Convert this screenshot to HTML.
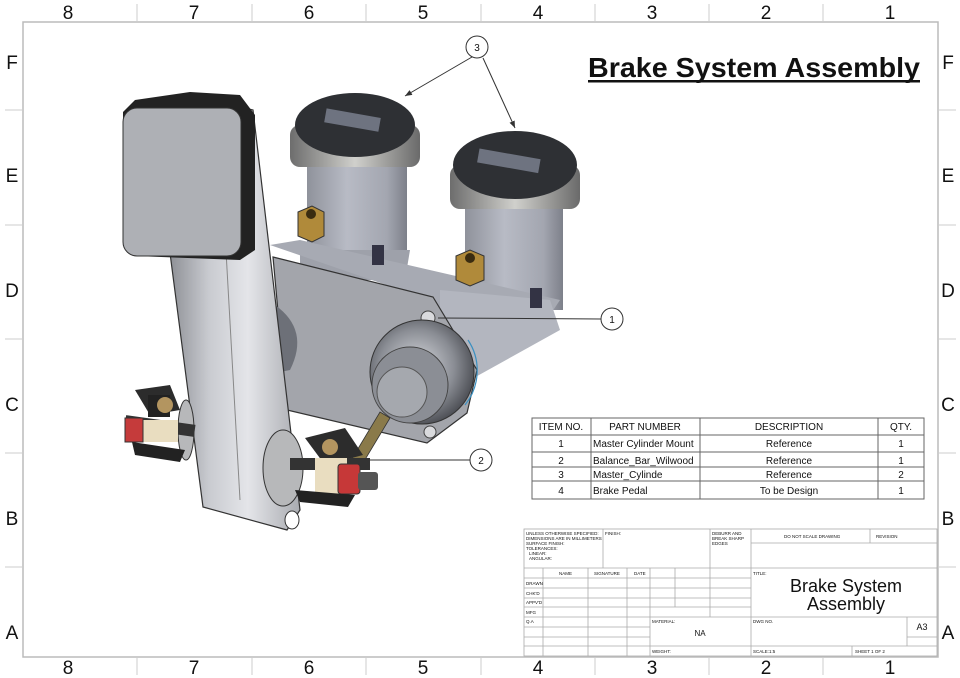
<!DOCTYPE html>
<html><head><meta charset="utf-8"><style>
html,body{margin:0;padding:0;background:#fff}
svg{display:block}
text{font-family:"Liberation Sans",sans-serif;fill:#111}
</style></head><body>
<svg width="960" height="678" viewBox="0 0 960 678" xmlns="http://www.w3.org/2000/svg">
<defs>
<linearGradient id="arm" x1="0" x2="1"><stop offset="0" stop-color="#8e9096"/><stop offset=".3" stop-color="#c9cbd0"/><stop offset=".6" stop-color="#e4e5e9"/><stop offset="1" stop-color="#a9abb0"/></linearGradient>
<linearGradient id="cyl" x1="0" x2="1"><stop offset="0" stop-color="#8f929b"/><stop offset=".4" stop-color="#b8bbc5"/><stop offset=".8" stop-color="#a3a6b0"/><stop offset="1" stop-color="#7d808a"/></linearGradient>
<linearGradient id="ring" x1="0" x2="1"><stop offset="0" stop-color="#6d6d6d"/><stop offset=".5" stop-color="#d0d0cc"/><stop offset="1" stop-color="#6a6a6a"/></linearGradient>
<radialGradient id="mc" cx=".45" cy=".45" r=".6"><stop offset="0" stop-color="#d9dbe0"/><stop offset=".6" stop-color="#8a8d94"/><stop offset="1" stop-color="#44464c"/></radialGradient>
<marker id="ah" viewBox="0 0 10 10" refX="10" refY="5" markerWidth="7" markerHeight="7" orient="auto"><path d="M0 1 L10 5 L0 9Z" fill="#333"/></marker>
</defs>
<rect x="23" y="22" width="915" height="635" fill="none" stroke="#bbb" stroke-width="1.5"/>
<g stroke="#ccc" stroke-width="1">
<line x1="137" y1="4" x2="137" y2="22"/><line x1="252" y1="4" x2="252" y2="22"/><line x1="366" y1="4" x2="366" y2="22"/><line x1="481" y1="4" x2="481" y2="22"/><line x1="595" y1="4" x2="595" y2="22"/><line x1="709" y1="4" x2="709" y2="22"/><line x1="823" y1="4" x2="823" y2="22"/>
<line x1="137" y1="657" x2="137" y2="675"/><line x1="252" y1="657" x2="252" y2="675"/><line x1="366" y1="657" x2="366" y2="675"/><line x1="481" y1="657" x2="481" y2="675"/><line x1="595" y1="657" x2="595" y2="675"/><line x1="709" y1="657" x2="709" y2="675"/><line x1="823" y1="657" x2="823" y2="675"/>
<line x1="5" y1="110" x2="23" y2="110"/><line x1="5" y1="225" x2="23" y2="225"/><line x1="5" y1="339" x2="23" y2="339"/><line x1="5" y1="453" x2="23" y2="453"/><line x1="5" y1="567" x2="23" y2="567"/>
<line x1="938" y1="110" x2="956" y2="110"/><line x1="938" y1="225" x2="956" y2="225"/><line x1="938" y1="339" x2="956" y2="339"/><line x1="938" y1="453" x2="956" y2="453"/><line x1="938" y1="567" x2="956" y2="567"/>
</g>
<g font-size="19" text-anchor="middle">
<text x="68" y="19">8</text><text x="194" y="19">7</text><text x="309" y="19">6</text><text x="423" y="19">5</text><text x="538" y="19">4</text><text x="652" y="19">3</text><text x="766" y="19">2</text><text x="890" y="19">1</text>
<text x="68" y="674">8</text><text x="194" y="674">7</text><text x="309" y="674">6</text><text x="423" y="674">5</text><text x="538" y="674">4</text><text x="652" y="674">3</text><text x="766" y="674">2</text><text x="890" y="674">1</text>
<text x="12" y="69">F</text><text x="12" y="182">E</text><text x="12" y="297">D</text><text x="12" y="411">C</text><text x="12" y="525">B</text><text x="12" y="639">A</text>
<text x="948" y="69">F</text><text x="948" y="182">E</text><text x="948" y="297">D</text><text x="948" y="411">C</text><text x="948" y="525">B</text><text x="948" y="639">A</text>
</g>
<text x="588" y="77" font-size="28" font-weight="bold" textLength="332" lengthAdjust="spacingAndGlyphs">Brake System Assembly</text>
<rect x="588" y="80" width="332" height="2.5" fill="#111"/>

<rect x="307" y="160" width="100" height="108" fill="url(#cyl)"/>
<path d="M300 250 L410 250 L405 280 L300 280Z" fill="#9ea1aa"/>
<rect x="290" y="125" width="130" height="42" rx="10" fill="url(#ring)"/>
<ellipse cx="355" cy="125" rx="60" ry="32" fill="#2e3034"/>
<rect x="325" y="113" width="55" height="14" fill="#6e7380" transform="rotate(10 352 120)"/>
<rect x="465" y="205" width="98" height="105" fill="url(#cyl)"/>
<rect x="450" y="165" width="130" height="44" rx="10" fill="url(#ring)"/>
<ellipse cx="515" cy="165" rx="62" ry="34" fill="#2e3034"/>
<rect x="478" y="154" width="62" height="14" fill="#6e7380" transform="rotate(10 510 160)"/>
<path d="M270 245 L300 240 L560 300 L540 330 L460 350 L430 300 Z" fill="#a7aab3"/>
<path d="M440 290 L550 300 L560 330 L470 380 L440 340Z" fill="#b3b6bf"/>
<path d="M298 212 L312 206 L324 212 L324 236 L312 242 L298 236Z" fill="#b08a3a" stroke="#333" stroke-width="1"/>
<circle cx="311" cy="214" r="5" fill="#3a2c10"/>
<path d="M456 256 L470 250 L484 256 L484 280 L470 286 L456 280Z" fill="#b08a3a" stroke="#333" stroke-width="1"/>
<circle cx="470" cy="258" r="5" fill="#3a2c10"/>
<rect x="372" y="245" width="12" height="20" fill="#334"/><rect x="530" y="288" width="12" height="20" fill="#334"/>
<path d="M273 257 L433 297 L477 370 L467 413 L427 443 L287 410 Z" fill="#a3a5ab" stroke="#333" stroke-width="1.2"/>
<path d="M275 305 Q310 330 290 370 L280 372Z" fill="#6d7078"/>
<circle cx="428" cy="318" r="7" fill="#d9dadd" stroke="#444"/>
<circle cx="430" cy="432" r="6" fill="#d9dadd" stroke="#444"/>
<circle cx="422" cy="372" r="52" fill="url(#mc)" stroke="#333"/>
<circle cx="410" cy="385" r="38" fill="#8b8e95" stroke="#444"/>
<circle cx="402" cy="392" r="25" fill="#a5a8ae" stroke="#555"/>
<path d="M468 340 A55 55 0 0 1 465 405" fill="none" stroke="#3a8fc0" stroke-width="1.2"/>
<path d="M380 412 L390 418 L360 468 L350 462Z" fill="#8a7a4a" stroke="#333" stroke-width=".8"/>
<path d="M190 95 L253 110 L300 510 L287 530 L203 507 L170 253 Z" fill="url(#arm)" stroke="#333" stroke-width="1.2"/>
<path d="M222 180 L240 500" stroke="#888" stroke-width="1" fill="none"/>
<ellipse cx="292" cy="520" rx="7" ry="9" fill="#fff" stroke="#333"/>
<path d="M190 92 L240 95 L255 115 L255 250 L240 260 L135 256 L123 244 L123 112 L135 100 Z" fill="#222"/>
<rect x="123" y="108" width="118" height="148" rx="14" fill="#aeb0b5" stroke="#333"/>
<ellipse cx="283" cy="468" rx="20" ry="38" fill="#b7b8ba" stroke="#333"/>
<ellipse cx="186" cy="430" rx="8" ry="30" fill="#b7b8ba" stroke="#333"/>
<rect x="125" y="420" width="70" height="12" fill="#333" transform="rotate(8 160 426)"/>
<path d="M135 390 L170 385 L180 410 L150 415Z" fill="#2c2c2c"/>
<rect x="148" y="395" width="22" height="22" fill="#222"/>
<circle cx="165" cy="405" r="8" fill="#b39560"/>
<rect x="138" y="420" width="40" height="22" fill="#e9ddc0"/>
<rect x="125" y="418" width="18" height="24" fill="#c53b3b" stroke="#333"/>
<path d="M132 442 L185 450 L180 462 L135 455Z" fill="#222"/>
<path d="M305 438 L345 428 L363 455 L325 465Z" fill="#2c2c2c"/>
<circle cx="330" cy="447" r="8" fill="#b39560"/>
<rect x="290" y="458" width="80" height="12" fill="#333"/>
<rect x="315" y="458" width="32" height="36" fill="#e9ddc0"/>
<rect x="338" y="464" width="22" height="30" rx="3" fill="#c63838" stroke="#333"/>
<rect x="358" y="472" width="20" height="18" rx="3" fill="#555"/>
<path d="M295 490 L355 495 L348 507 L300 502Z" fill="#222"/>

<g stroke="#333" stroke-width="1" fill="none">
<line x1="472" y1="57" x2="405" y2="96" marker-end="url(#ah)"/><line x1="483" y1="58" x2="515" y2="128" marker-end="url(#ah)"/>
<line x1="601" y1="319" x2="438" y2="318"/>
<line x1="470" y1="460" x2="370" y2="460"/>
<circle cx="477" cy="47" r="11" fill="#fff"/>
<circle cx="612" cy="319" r="11" fill="#fff"/>
<circle cx="481" cy="460" r="11" fill="#fff"/>
</g>
<g font-size="10" text-anchor="middle"><text x="477" y="51">3</text><text x="612" y="323">1</text><text x="481" y="464">2</text></g>

<g stroke="#666" stroke-width="1" fill="none">
<rect x="532" y="418" width="392" height="81"/>
<line x1="532" y1="435" x2="924" y2="435"/><line x1="532" y1="452" x2="924" y2="452"/><line x1="532" y1="467" x2="924" y2="467"/><line x1="532" y1="481" x2="924" y2="481"/>
<line x1="591" y1="418" x2="591" y2="499"/><line x1="700" y1="418" x2="700" y2="499"/><line x1="878" y1="418" x2="878" y2="499"/>
</g>
<g font-size="10">
<g text-anchor="middle">
<text x="561" y="430">ITEM NO.</text><text x="645" y="430">PART NUMBER</text><text x="789" y="430">DESCRIPTION</text><text x="901" y="430">QTY.</text>
<text x="561" y="447">1</text><text x="561" y="464">2</text><text x="561" y="478">3</text><text x="561" y="494">4</text>
<text x="789" y="447">Reference</text><text x="789" y="464">Reference</text><text x="789" y="478">Reference</text><text x="789" y="494">To be Design</text>
<text x="901" y="447">1</text><text x="901" y="464">1</text><text x="901" y="478">2</text><text x="901" y="494">1</text>
</g>
<text x="593" y="447">Master Cylinder Mount</text><text x="593" y="464">Balance_Bar_Wilwood</text><text x="593" y="478">Master_Cylinde</text><text x="593" y="494">Brake Pedal</text>
</g>

<g stroke="#aaa" stroke-width=".8" fill="none">
<rect x="524" y="529" width="413" height="127"/>
<line x1="524" y1="568" x2="937" y2="568"/>
<line x1="603" y1="529" x2="603" y2="568"/>
<line x1="710" y1="529" x2="710" y2="617"/>
<line x1="751" y1="529" x2="751" y2="656"/>
<line x1="751" y1="543" x2="937" y2="543"/>
<line x1="870" y1="529" x2="870" y2="543"/>
<line x1="524" y1="578" x2="751" y2="578"/><line x1="524" y1="588" x2="751" y2="588"/><line x1="524" y1="598" x2="751" y2="598"/><line x1="524" y1="607" x2="751" y2="607"/><line x1="524" y1="617" x2="937" y2="617"/>
<line x1="524" y1="627" x2="650" y2="627"/><line x1="524" y1="637" x2="650" y2="637"/><line x1="524" y1="646" x2="937" y2="646"/>
<line x1="543" y1="568" x2="543" y2="656"/><line x1="588" y1="568" x2="588" y2="656"/><line x1="627" y1="568" x2="627" y2="656"/><line x1="650" y1="568" x2="650" y2="656"/><line x1="675" y1="568" x2="675" y2="607"/>
<line x1="907" y1="617" x2="907" y2="646"/><line x1="907" y1="637" x2="937" y2="637"/><line x1="852" y1="646" x2="852" y2="656"/>
</g>
<g font-size="4.5" fill="#333">
<text x="526" y="535">UNLESS OTHERWISE SPECIFIED:</text><text x="526" y="540">DIMENSIONS ARE IN MILLIMETERS</text><text x="526" y="545">SURFACE FINISH:</text><text x="526" y="550">TOLERANCES:</text><text x="529" y="555">LINEAR:</text><text x="529" y="560">ANGULAR:</text>
<text x="605" y="535">FINISH:</text>
<text x="712" y="535">DEBURR AND</text><text x="712" y="540">BREAK SHARP</text><text x="712" y="545">EDGES</text>
<text x="784" y="538">DO NOT SCALE DRAWING</text><text x="876" y="538">REVISION</text>
<text x="559" y="575">NAME</text><text x="594" y="575">SIGNATURE</text><text x="634" y="575">DATE</text>
<text x="526" y="585">DRAWN</text><text x="526" y="595">CHK'D</text><text x="526" y="604">APPV'D</text><text x="526" y="614">MFG</text><text x="526" y="623">Q.A</text>
<text x="753" y="575">TITLE:</text><text x="652" y="623">MATERIAL:</text><text x="753" y="623">DWG NO.</text>
<text x="652" y="653">WEIGHT:</text><text x="753" y="653">SCALE:1:5</text><text x="855" y="653">SHEET 1 OF 2</text>
</g>
<text x="846" y="592" font-size="18" text-anchor="middle">Brake System</text>
<text x="846" y="610" font-size="18" text-anchor="middle">Assembly</text>
<text x="700" y="636" font-size="8" text-anchor="middle">NA</text>
<text x="922" y="630" font-size="9" text-anchor="middle">A3</text>
</svg>
</body></html>
